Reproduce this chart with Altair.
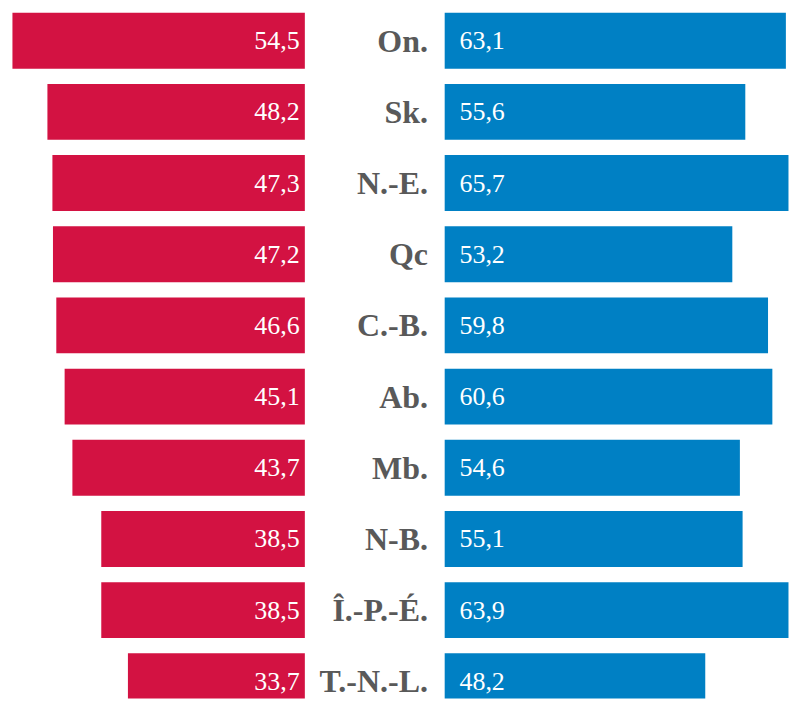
import altair as alt
import pandas as pd

# ---- data ----
provinces = ["On.", "Sk.", "N.-E.", "Qc", "C.-B.", "Ab.", "Mb.", "N-B.", "Î.-P.-É.", "T.-N.-L."]
left_values = [54.5, 48.2, 47.3, 47.2, 46.6, 45.1, 43.7, 38.5, 38.5, 33.7]
right_values = [63.1, 55.6, 65.7, 53.2, 59.8, 60.6, 54.6, 55.1, 63.9, 48.2]

RED = "#D31242"
BLUE = "#0080C4"
LABEL_GREY = "#595959"
FONT = "Liberation Serif, Times New Roman, Times, serif"


def fr(v):
    return f"{v:.1f}".replace(".", ",")


df = pd.DataFrame({
    "prov": provinces,
    "left": left_values,
    "right": right_values,
    "left_lbl": [fr(v) for v in left_values],
    "right_lbl": [fr(v) for v in right_values],
})

H = 691           # visible plot height (fits the window without scrolling)
Y_RANGE = 706     # band layout as in the reference (last row runs off the bottom)
yscale = alt.Scale(domain=provinces, range=[0, Y_RANGE],
                   paddingInner=0.2143, paddingOuter=0.0603)

# ---- left panel (red, growing leftwards) ----
xl_scale = alt.Scale(domain=[1.82, 55.30], reverse=True, clamp=True, zero=False, nice=False)
left_base = alt.Chart(df).encode(
    y=alt.Y("prov:N", sort=provinces, scale=yscale, axis=None)
)
left_bars = left_base.mark_bar(color=RED, clip=True).encode(
    x=alt.X("left:Q", scale=xl_scale, axis=None),
    x2=alt.datum(0),
)
left_text = left_base.mark_text(
    align="right", baseline="middle", dx=-5.3, dy=0.5,
    font=FONT, fontSize=26, color="white"
).encode(
    x=alt.X(datum=0, type="quantitative", scale=xl_scale, axis=None),
    text="left_lbl:N",
)
left = alt.layer(left_bars, left_text).properties(width=297.3, height=H)

# ---- right panel (blue) with the province labels as its y axis ----
xr_scale = alt.Scale(domain=[0, 63.62], clamp=True, nice=False)
right_base = alt.Chart(df).encode(
    y=alt.Y(
        "prov:N", sort=provinces, scale=yscale,
        axis=alt.Axis(
            title=None, ticks=False, domain=False, grid=False,
            labelFont=FONT, labelFontSize=32, labelFontWeight="bold",
            labelColor=LABEL_GREY, labelPadding=17, labelAlign="right",
            labelBaseline="middle", labelOffset=1, labelLimit=0,
            minExtent=139, maxExtent=139,
        ),
    )
)
right_bars = right_base.mark_bar(color=BLUE, clip=True).encode(
    x=alt.X("right:Q", scale=xr_scale, axis=None),
    x2=alt.datum(0),
)
right_text = right_base.mark_text(
    align="left", baseline="middle", dx=15, dy=0.5,
    font=FONT, fontSize=26, color="white"
).encode(
    x=alt.X(datum=0, type="quantitative", scale=xr_scale, axis=None),
    text="right_lbl:N",
)
right = alt.layer(right_bars, right_text).properties(width=344.7, height=H)

chart = (
    alt.hconcat(left, right, spacing=0)
    .properties(padding=0, background="white")
    .configure_view(stroke=None)
)

chart.save("out.html", embed_options={"renderer": "svg", "actions": False})
